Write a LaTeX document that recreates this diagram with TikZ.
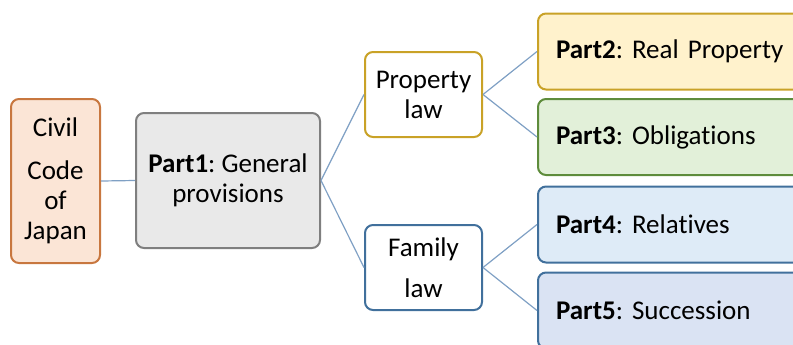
\documentclass[tikz,border=0pt]{standalone}
\usepackage{fontspec}
\setmainfont{Carlito}[Ligatures=NoCommon]
\frenchspacing
\definecolor{civilfill}{HTML}{FBE5D6}
\definecolor{civilline}{HTML}{C8773F}
\definecolor{genfill}{HTML}{E9E9E9}
\definecolor{genline}{HTML}{7F7F7F}
\definecolor{propfill}{HTML}{FFF2CC}
\definecolor{propline}{HTML}{C9A227}
\definecolor{oblfill}{HTML}{E2F0D9}
\definecolor{oblline}{HTML}{5E8C3C}
\definecolor{relfill}{HTML}{DEEBF7}
\definecolor{sucfill}{HTML}{DAE3F3}
\definecolor{famline}{HTML}{41709C}
\definecolor{linkblue}{HTML}{7FA0C4}
\begin{document}
\begin{tikzpicture}[x=0.5pt,y=-0.5pt,
    box/.style={draw, rounded corners=4pt, line width=1pt, align=center,
      inner sep=0pt, font=\fontsize{13.5}{15}\selectfont},
    partbox/.style={box, anchor=west, align=left, inner xsep=9pt,
      text width=116pt, minimum height=38pt},
    link/.style={draw=linkblue, line width=0.6pt}]
  \useasboundingbox (0,0) rectangle (793,344);
  \clip (0,0) rectangle (793,344); % the right boxes run off the page

  \node [box, fill=civilfill, draw=civilline, minimum width=44.5pt, minimum height=82pt]
    (civil) at (55.5,181) {Civil\\[6.5pt]Code\\of\\Japan};
  \node [box, fill=genfill, draw=genline, minimum width=92pt, minimum height=67.5pt]
    (part1) at (228,180.5) {\textbf{Part1}: General\\provisions};

  \node [box, fill=white, draw=propline, minimum width=58.5pt, minimum height=42.5pt]
    (property) at (423.5,94.5) {Property\\law};
  \node [box, fill=white, draw=famline, minimum width=58.5pt, minimum height=42.5pt]
    (family) at (423.5,267.5) {Family\\[5.5pt]law};

  \node [partbox, fill=propfill, draw=propline] (part2) at (537,51.5) {\textbf{Part2}: Real Property};
  \node [partbox, fill=oblfill, draw=oblline] (part3) at (537,137) {\textbf{Part3}: Obligations};
  \node [partbox, fill=relfill, draw=famline] (part4) at (537,224.5) {\textbf{Part4}: Relatives};
  \node [partbox, fill=sucfill, draw=famline] (part5) at (537,310.5) {\textbf{Part5}: Succession};

  \draw [link] (civil.east) -- (part1.west);
  \draw [link] (part1.east) -- (property.west);
  \draw [link] (part1.east) -- (family.west);

  \draw [link] (property.east) -- (part2.west);
  \draw [link] (property.east) -- (part3.west);

  \draw [link] (family.east) -- (part4.west);
  \draw [link] (family.east) -- (part5.west);
\end{tikzpicture}
\end{document}
